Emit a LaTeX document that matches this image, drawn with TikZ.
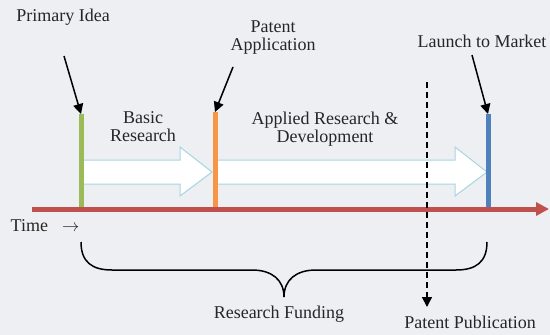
\documentclass[tikz,border=0pt]{standalone}
\usepackage{fontspec}
\setmainfont{Liberation Serif}
\usepackage{tikz}
\usetikzlibrary{arrows.meta}
\definecolor{bgrey}{RGB}{238,239,243}
\definecolor{axisred}{RGB}{192,80,77}
\definecolor{ideagreen}{RGB}{155,187,89}
\definecolor{patorange}{RGB}{247,150,70}
\definecolor{marketblue}{RGB}{79,129,189}
\definecolor{arrowblue}{RGB}{165,213,226}
\definecolor{txt}{RGB}{38,38,38}

\tikzset{
  lbl/.style={text=txt, font=\fontsize{18}{18}\selectfont, align=center, inner sep=0pt},
  pointer/.style={line width=1.5pt, -{Triangle[length=10pt,width=10pt]}},
  bar/.style={line width=5pt},
  blockarrow/.style={draw=arrowblue, fill=white, line width=1pt, line join=miter}
}

\begin{document}
\begin{tikzpicture}[x=1pt,y=-1pt]
\useasboundingbox [fill=bgrey] (0,0) rectangle (550,335);
\node [lbl] (idea) at (63,17) {Primary Idea};
\node [lbl] (patent) at (273,38) {Patent\\Application};
\node [lbl] (market) at (482,41) {Launch to Market};
\node [lbl] (basic) at (143,127) {Basic\\Research};
\node [lbl] (applied) at (325,129) {Applied Research \&\\Development};
\node [lbl] (time) at (45,226) {Time\hspace{14pt}$\rightarrow$};
\node [lbl] (funding) at (279,314) {Research Funding};
\node [lbl] (publication) at (470,322) {Patent Publication};
\coordinate (ideatop) at (81,114);
\coordinate (patenttop) at (215,112);
\coordinate (markettop) at (488,114);
\coordinate (ideatail) at (64,56);
\coordinate (patenttail) at (233,67);
\coordinate (markettail) at (472,55);
\coordinate (axisstart) at (32,209);
\coordinate (axisend) at (549,209);
\coordinate (pubtop) at (427,82);
\coordinate (pubend) at (427,307);
\draw [blockarrow] (83,160) -- (180,160) -- (180,147) -- (212,172) -- (180,196) -- (180,184) -- (83,184) -- cycle;
\draw [blockarrow] (217,160) -- (455,160) -- (455,147) -- (487,172) -- (455,196) -- (455,184) -- (217,184) -- cycle;
\draw [bar, ideagreen] (ideatop) -- (ideatop |- axisstart);
\draw [bar, patorange] (patenttop) -- (patenttop |- axisstart);
\draw [bar, marketblue] (markettop) -- (markettop |- axisstart);
\draw [bar, axisred, -{Triangle[length=13pt,width=13pt]}] (axisstart) -- (axisend);
\draw [pointer] (ideatail) -- (ideatop);
\draw [pointer] (patenttail) -- (patenttop);
\draw [pointer] (markettail) -- (markettop);
\draw [pointer, dash pattern=on 6pt off 4pt] (pubtop) -- (pubend);
\draw [line width=1.5pt] (81,242) .. controls (81,262) and (92,270) .. (112,270) -- (252,270) .. controls (272,270) and (284,280) .. (284,297);
\draw [line width=1.5pt] (487,242) .. controls (487,262) and (476,270) .. (456,270) -- (316,270) .. controls (296,270) and (284,280) .. (284,297);
\end{tikzpicture}
\end{document}
